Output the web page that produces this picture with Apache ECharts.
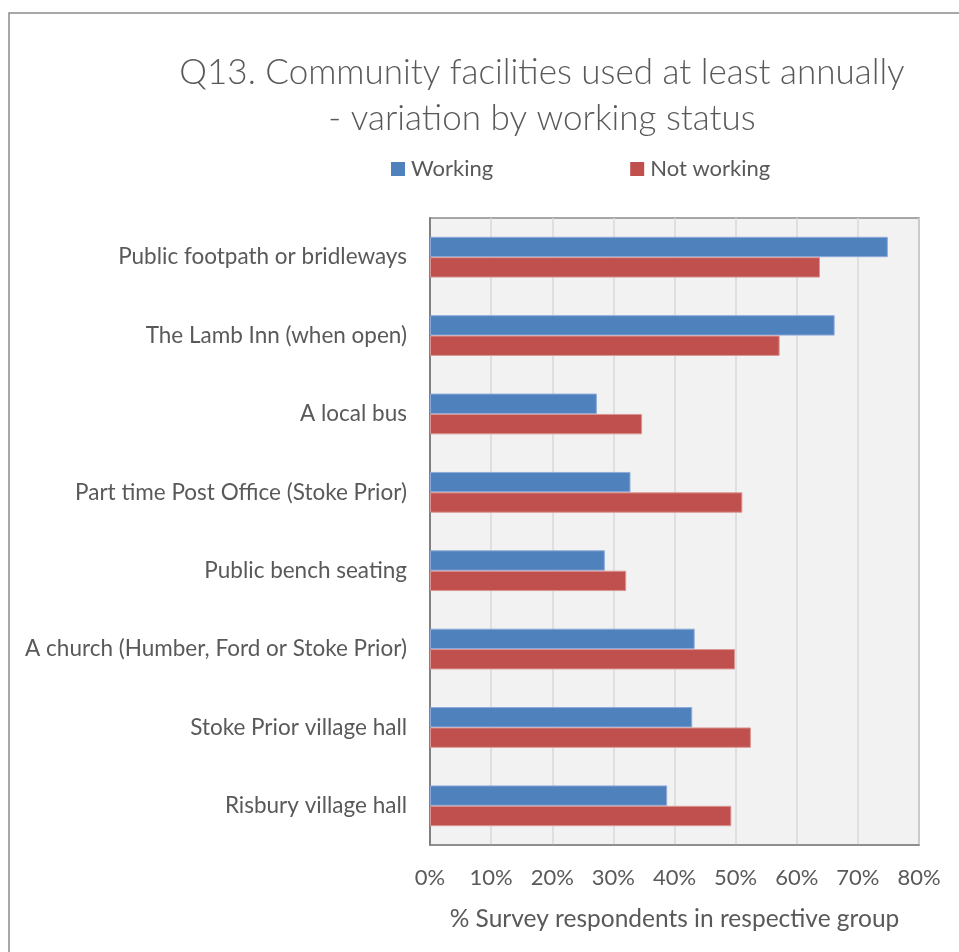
<!DOCTYPE html>
<html>
<head>
<meta charset="utf-8">
<script src="https://cdn.jsdelivr.net/npm/echarts@6/dist/echarts.min.js"></script>
<style>
html,body{margin:0;padding:0;background:#fff;}
#chart{width:959px;height:952px;}
</style>
</head>
<body>
<div id="chart"></div>
<script>
const categories = [
  'Public footpath or bridleways',
  'The Lamb Inn (when open)',
  'A local bus',
  'Part time Post Office (Stoke Prior)',
  'Public bench seating',
  'A church (Humber, Ford or Stoke Prior)',
  'Stoke Prior village hall',
  'Risbury village hall'
];
const seriesNames = ['Working', 'Not working'];
const working = [74.9, 66.2, 27.3, 32.8, 28.6, 43.3, 42.9, 38.8];
const notWorking = [63.8, 57.2, 34.7, 51.1, 32.1, 49.9, 52.5, 49.3];
const xTicks = [0, 10, 20, 30, 40, 50, 60, 70, 80];

const chart = echarts.init(document.getElementById('chart'));
const font = 'Lato, "Open Sans", "Liberation Sans", sans-serif';
const textColor = '#595959';

chart.setOption({
  animation: false,
  backgroundColor: '#ffffff',
  title: {
    text: 'Q13. Community facilities used at least annually\n- variation by working status',
    left: 542,
    top: 50,
    padding: 0,
    textAlign: 'center',
    textStyle: {
      fontFamily: font,
      fontWeight: 300,
      fontSize: 35,
      lineHeight: 46,
      color: textColor
    }
  },
  legend: {
    data: seriesNames,
    left: 391,
    top: 158,
    padding: 0,
    itemWidth: 14,
    itemHeight: 14,
    itemGap: 137,
    icon: 'rect',
    itemStyle: { borderWidth: 0 },
    textStyle: {
      fontFamily: font,
      fontSize: 22,
      color: textColor,
      padding: [0, 0, 0, 1]
    }
  },
  graphic: [{
    type: 'rect',
    silent: true,
    shape: { x: 9, y: 13, width: 2000, height: 2000 },
    style: { fill: 'none', stroke: '#8c8c8c', lineWidth: 1.5 },
    z: -10
  }],
  grid: {
    left: 430,
    top: 218,
    width: 489,
    height: 627,
    show: true,
    backgroundColor: '#F2F2F2',
    borderColor: '#8c8c8c',
    borderWidth: 1.5,
    containLabel: false
  },
  xAxis: {
    type: 'value',
    min: xTicks[0],
    max: xTicks[xTicks.length - 1],
    interval: 10,
    name: '% Survey respondents in respective group',
    nameLocation: 'middle',
    nameGap: 62,
    nameTextStyle: { fontFamily: font, fontSize: 24.5, color: textColor },
    axisLine: { show: true, lineStyle: { color: '#868686', width: 1.5 } },
    axisTick: { show: false },
    axisLabel: {
      formatter: '{value}%',
      margin: 22,
      fontFamily: font,
      fontSize: 22,
      color: textColor
    },
    splitLine: { show: true, lineStyle: { color: '#D9D9D9', width: 1.5 } }
  },
  yAxis: {
    type: 'category',
    data: categories,
    inverse: true,
    axisLine: { show: true, lineStyle: { color: '#808080', width: 2 } },
    axisTick: { show: false },
    axisLabel: {
      margin: 23,
      fontFamily: font,
      fontSize: 22.5,
      color: textColor
    },
    splitLine: { show: false }
  },
  series: [
    {
      name: seriesNames[0],
      type: 'bar',
      data: working,
      barGap: '0%',
      barCategoryGap: '48%',
      itemStyle: { color: '#4F81BD', borderColor: '#8EAADB', borderWidth: 1 }
    },
    {
      name: seriesNames[1],
      type: 'bar',
      data: notWorking,
      barGap: '0%',
      barCategoryGap: '48%',
      itemStyle: { color: '#C0504D', borderColor: '#D99694', borderWidth: 1 }
    }
  ]
});
</script>
</body>
</html>
